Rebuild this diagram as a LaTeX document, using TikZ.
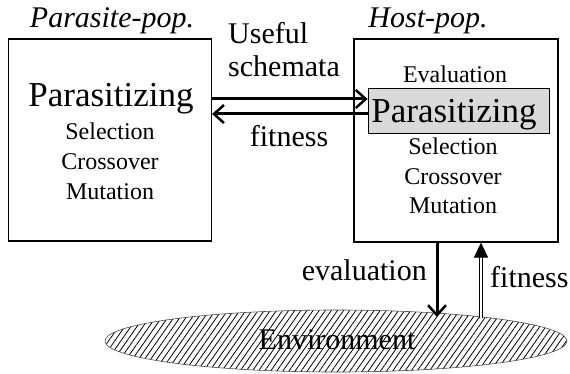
\documentclass[tikz,border=0pt]{standalone}
\usepackage{fontspec}
\setmainfont{Liberation Serif}
\usetikzlibrary{arrows.meta,patterns.meta,calc,shapes.geometric}
\begin{document}
\begin{tikzpicture}[x=1pt,y=-1pt,
  box/.style={draw,line width=1.2pt,inner sep=0pt},
  big/.style={font=\fontsize{35}{38}\selectfont,inner sep=0pt},
  small/.style={font=\fontsize{24}{28}\selectfont,inner sep=0pt},
  lab/.style={font=\fontsize{30}{34}\selectfont,inner sep=0pt},
  ttl/.style={font=\fontsize{30}{34}\selectfont\itshape,inner sep=0pt},
  barb/.style={line width=3pt,-{Straight Barb[length=10pt,width=18pt,line width=2.5pt]}},
  tri/.style={double,double distance=1.2pt,line width=1.2pt,-{Triangle[length=15pt,width=14pt]}},
]
\useasboundingbox (0,0) rectangle (570,374);
% boxes
\node[box,minimum width=203pt,minimum height=202pt] (pbox) at (110,140) {};
\node[box,minimum width=204pt,minimum height=203pt] (hbox) at (456,140.5) {};
% environment
\node[draw=black!70,line width=0.6pt,ellipse,minimum width=462pt,minimum height=62pt,inner sep=0pt,
      pattern={Lines[angle=55,distance=5pt,line width=0.8pt]}] (env) at (336,341) {};
\node[lab,anchor=base] (envl) at (337,349) {Environment};
% titles
\node[ttl,anchor=base] (pt) at (112,28) {Parasite-pop.};
\node[ttl,anchor=base] (ht) at (428,28) {Host-pop.};
% left box content
\node[big,anchor=base] (p1) at (111,107) {Parasitizing};
\node[small,anchor=base] (p2) at (110,140) {Selection};
\node[small,anchor=base] (p3) at (110,170) {Crossover};
\node[small,anchor=base] (p4) at (110,200) {Mutation};
% right box content
\node[small,anchor=base] (h1) at (455,83) {Evaluation};
\node[draw,line width=0.8pt,fill=gray!30,minimum width=181pt,minimum height=45pt,inner sep=0pt] (hpar) at (458.5,110.5) {};
\node[big,anchor=base] (hp) at (454,123) {Parasitizing};
\node[small,anchor=base] (h2) at (453,155) {Selection};
\node[small,anchor=base] (h3) at (453,185) {Crossover};
\node[small,anchor=base] (h4) at (453,214) {Mutation};
% labels
\node[lab,anchor=base west] (u1) at (228,44) {Useful};
\node[lab,anchor=base west] (u2) at (228,77) {schemata};
\node[lab,anchor=base] (fm) at (289,147) {fitness};
\node[lab,anchor=base east] (ev) at (427,280) {evaluation};
\node[lab,anchor=base west] (fr) at (490,287) {fitness};
% horizontal arrows
\coordinate (a1) at ($(hpar.west)+(0,-11.5)$);
\coordinate (a2) at ($(hpar.west)+(0,3.5)$);
\draw[barb] (a1 -| pbox.east) -- (a1);
\draw[barb] (a2) -- (a2 -| pbox.east);
% vertical arrows
\coordinate (d1) at ($(hbox.south)+(-19,0)$);
\coordinate (d2) at (437,317);
\draw[barb] (d1) -- (d2);
\coordinate (f1) at ($(hbox.south)+(25,0)$);
\coordinate (f2) at (481,318);
\draw[tri] (f2) -- (f1);
\end{tikzpicture}
\end{document}
